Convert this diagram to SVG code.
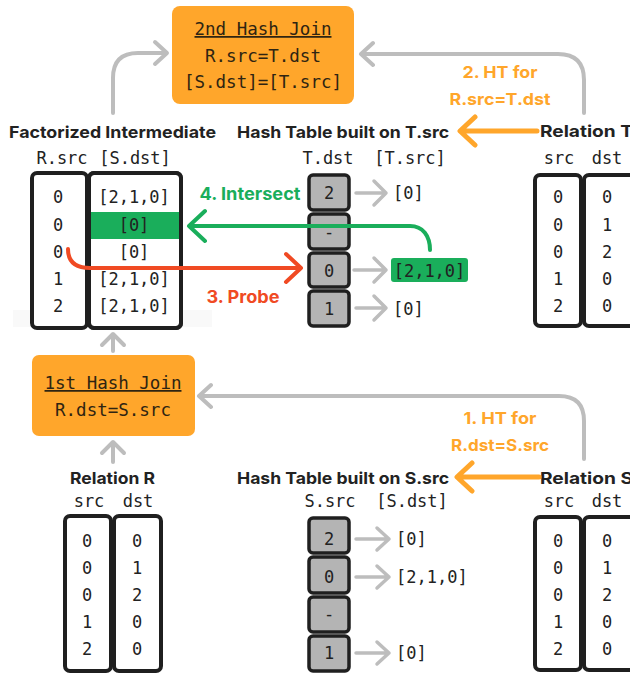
<svg xmlns="http://www.w3.org/2000/svg" width="630" height="675" viewBox="0 0 630 675">
<defs>
<style>
.mono{font-family:"DejaVu Sans Mono","Liberation Mono",monospace;font-size:17px;fill:#222;text-anchor:middle}
.monoL{font-family:"DejaVu Sans Mono","Liberation Mono",monospace;font-size:17px;fill:#222}
.bold{font-family:Inter,"Liberation Sans",sans-serif;font-weight:700;font-size:16.5px;fill:#222}
.obold{font-family:Inter,"Liberation Sans",sans-serif;font-weight:700;font-size:16.5px;fill:#FFA62B;text-anchor:middle}
.boxtxt{font-family:"DejaVu Sans Mono","Liberation Mono",monospace;font-size:17.5px;fill:#2e2412;text-anchor:middle}
.col{fill:#fff;stroke:#1f1f1f;stroke-width:4}
.cell{fill:#b4b4b4;stroke:#1f1f1f;stroke-width:3.5}
.gray{fill:none;stroke:#bdbdbd;stroke-width:4;stroke-linecap:round;stroke-linejoin:round}
.garr{fill:none;stroke:#bdbdbd;stroke-width:3.5;stroke-linecap:round;stroke-linejoin:round}
.orange{fill:none;stroke:#FFA62B;stroke-width:5;stroke-linecap:round;stroke-linejoin:round}
.jbox{fill:#FFA62B}
</style>
</defs>
<rect width="630" height="675" fill="#fff"/>
<rect x="13" y="310" width="199" height="17" fill="#f9f9f9"/>

<!-- 2nd Hash Join -->
<g id="join2">
<rect class="jbox" x="172" y="6" width="182" height="98" rx="8"/>
<text class="boxtxt" x="263" y="35" text-decoration="underline">2nd Hash Join</text>
<text class="boxtxt" x="263" y="62">R.src=T.dst</text>
<text class="boxtxt" x="263" y="88">[S.dst]=[T.src]</text>
</g>

<!-- 1st Hash Join -->
<g id="join1">
<rect class="jbox" x="32" y="355" width="163" height="81" rx="7"/>
<text class="boxtxt" x="113" y="389" text-decoration="underline">1st Hash Join</text>
<text class="boxtxt" x="113" y="416">R.dst=S.src</text>
</g>

<!-- Factorized Intermediate -->
<g id="factorized">
<text class="bold" x="9" y="138" textLength="207" lengthAdjust="spacingAndGlyphs">Factorized Intermediate</text>
<text class="mono" x="62" y="164">R.src</text>
<text class="mono" x="135" y="164">[S.dst]</text>
<rect class="col" x="32" y="173" width="55" height="155" rx="5"/>
<rect class="col" x="89" y="173" width="92" height="155" rx="5"/>
<rect x="91" y="212" width="88" height="27" fill="#1aae5b"/>
<rect x="89" y="173" width="92" height="155" rx="5" fill="none" stroke="#1f1f1f" stroke-width="4"/>
<text class="mono" x="58" y="203">0</text>
<text class="mono" x="58" y="231">0</text>
<text class="mono" x="58" y="258">0</text>
<text class="mono" x="58" y="285">1</text>
<text class="mono" x="58" y="312">2</text>
<text class="mono" x="134" y="203">[2,1,0]</text>
<text class="mono" x="134" y="231">[0]</text>
<text class="mono" x="134" y="258">[0]</text>
<text class="mono" x="134" y="285">[2,1,0]</text>
<text class="mono" x="134" y="312">[2,1,0]</text>
</g>

<!-- Hash table on T.src -->
<g id="htT">
<text class="bold" x="237" y="138" textLength="212" lengthAdjust="spacingAndGlyphs">Hash Table built on T.src</text>
<text class="mono" x="328" y="164">T.dst</text>
<text class="mono" x="410" y="164">[T.src]</text>
<rect class="cell" x="309" y="175" width="40" height="35" rx="4"/>
<rect class="cell" x="309" y="214" width="40" height="35" rx="4"/>
<rect class="cell" x="309" y="253" width="40" height="34" rx="4"/>
<rect class="cell" x="309" y="291" width="40" height="35" rx="4"/>
<text class="mono" x="329" y="199">2</text>
<text class="mono" x="329" y="238">-</text>
<text class="mono" x="329" y="277">0</text>
<text class="mono" x="329" y="315">1</text>
<path class="garr" d="M356,193 H386 M374,181 L386,193 L374,205"/>
<path class="garr" d="M354,270 H386 M374,258 L386,270 L374,282"/>
<path class="garr" d="M356,308 H386 M374,296 L386,308 L374,320"/>
<text class="monoL" x="393" y="199">[0]</text>
<rect x="391" y="258" width="77" height="24" rx="3" fill="#1aae5b"/>
<text class="mono" x="429.5" y="277">[2,1,0]</text>
<text class="monoL" x="393" y="315">[0]</text>
</g>

<!-- Relation T -->
<g id="relT">
<text class="bold" x="540" y="137" textLength="93" lengthAdjust="spacingAndGlyphs">Relation T</text>
<text class="mono" x="559" y="164">src</text>
<text class="mono" x="607" y="164">dst</text>
<rect class="col" x="535" y="175" width="46" height="151" rx="5"/>
<rect class="col" x="584" y="175" width="60" height="151" rx="5"/>
<text class="mono" x="558" y="203">0</text>
<text class="mono" x="558" y="231">0</text>
<text class="mono" x="558" y="258">0</text>
<text class="mono" x="558" y="285">1</text>
<text class="mono" x="558" y="312">2</text>
<text class="mono" x="607" y="203">0</text>
<text class="mono" x="607" y="231">1</text>
<text class="mono" x="607" y="258">2</text>
<text class="mono" x="607" y="285">0</text>
<text class="mono" x="607" y="312">0</text>
</g>

<!-- Relation R -->
<g id="relR">
<text class="bold" x="70" y="484" textLength="85" lengthAdjust="spacingAndGlyphs">Relation R</text>
<text class="mono" x="89" y="507">src</text>
<text class="mono" x="138" y="507">dst</text>
<rect class="col" x="65" y="516" width="46" height="155" rx="5"/>
<rect class="col" x="114" y="516" width="47" height="155" rx="5"/>
<text class="mono" x="87" y="547">0</text>
<text class="mono" x="87" y="574">0</text>
<text class="mono" x="87" y="601">0</text>
<text class="mono" x="87" y="628">1</text>
<text class="mono" x="87" y="655">2</text>
<text class="mono" x="137" y="547">0</text>
<text class="mono" x="137" y="574">1</text>
<text class="mono" x="137" y="601">2</text>
<text class="mono" x="137" y="628">0</text>
<text class="mono" x="137" y="655">0</text>
</g>

<!-- Hash table on S.src -->
<g id="htS">
<text class="bold" x="237" y="484" textLength="212" lengthAdjust="spacingAndGlyphs">Hash Table built on S.src</text>
<text class="mono" x="330" y="507">S.src</text>
<text class="mono" x="412" y="507">[S.dst]</text>
<rect class="cell" x="309" y="518" width="40" height="35" rx="4"/>
<rect class="cell" x="309" y="557" width="40" height="36" rx="4"/>
<rect class="cell" x="309" y="597" width="40" height="35" rx="4"/>
<rect class="cell" x="309" y="636" width="40" height="35" rx="4"/>
<text class="mono" x="329" y="545">2</text>
<text class="mono" x="329" y="583">0</text>
<text class="mono" x="329" y="620">-</text>
<text class="mono" x="329" y="659">1</text>
<path class="garr" d="M356,539 H389 M377,528 L389,539 L377,550"/>
<path class="garr" d="M356,577 H389 M377,566 L389,577 L377,588"/>
<path class="garr" d="M356,653 H389 M377,642 L389,653 L377,664"/>
<text class="monoL" x="396" y="545">[0]</text>
<text class="monoL" x="396" y="583">[2,1,0]</text>
<text class="monoL" x="396" y="659">[0]</text>
</g>

<!-- Relation S -->
<g id="relS">
<text class="bold" x="540" y="484" textLength="93" lengthAdjust="spacingAndGlyphs">Relation S</text>
<text class="mono" x="559" y="507">src</text>
<text class="mono" x="607" y="507">dst</text>
<rect class="col" x="535" y="517" width="46" height="153" rx="5"/>
<rect class="col" x="584" y="517" width="60" height="153" rx="5"/>
<text class="mono" x="558" y="547">0</text>
<text class="mono" x="558" y="574">0</text>
<text class="mono" x="558" y="601">0</text>
<text class="mono" x="558" y="628">1</text>
<text class="mono" x="558" y="655">2</text>
<text class="mono" x="607" y="547">0</text>
<text class="mono" x="607" y="574">1</text>
<text class="mono" x="607" y="601">2</text>
<text class="mono" x="607" y="628">0</text>
<text class="mono" x="607" y="655">0</text>
</g>

<!-- connectors -->
<g id="connectors">
<path class="gray" d="M113,113 V78 Q113,53 138,53 H166 M155,42 L167,53 L155,64"/>
<path class="gray" d="M584,113 V80 Q584,54 558,54 H361 M373,43 L361,54 L373,65"/>
<path class="gray" d="M584,459 V421 Q584,396 559,396 H199 M211,385 L199,396 L211,407"/>
<path class="gray" d="M113,351 V335 M102,345 L113,334 L124,345"/>
<path class="gray" d="M113,462 V443 M102,453 L113,442 L124,453"/>
<path class="orange" d="M537,131 H461 M475,117 L460,131 L475,145"/>
<text class="obold" x="500" y="78" textLength="75" lengthAdjust="spacingAndGlyphs">2. HT for</text>
<text class="obold" x="500" y="105" textLength="101" lengthAdjust="spacingAndGlyphs">R.src=T.dst</text>
<path class="orange" d="M539,477 H458 M472,463 L457,477 L472,491"/>
<text class="obold" x="500" y="424" textLength="73" lengthAdjust="spacingAndGlyphs">1. HT for</text>
<text class="obold" x="500" y="451" textLength="98" lengthAdjust="spacingAndGlyphs">R.dst=S.src</text>
<path d="M68,249 C68,262 76,268 90,268 H300 M286,254 L301,268 L286,282" fill="none" stroke="#f04a23" stroke-width="4" stroke-linecap="round" stroke-linejoin="round"/>
<text x="243" y="303" font-family="Inter,'Liberation Sans',sans-serif" font-weight="700" font-size="17.5" fill="#f04a23" text-anchor="middle" textLength="73" lengthAdjust="spacingAndGlyphs">3. Probe</text>
<path d="M430,250 C430,236 423,226 410,226 H190 M205,211 L189,226 L205,241" fill="none" stroke="#1aae5b" stroke-width="4" stroke-linecap="round" stroke-linejoin="round"/>
<text x="250" y="200" font-family="Inter,'Liberation Sans',sans-serif" font-weight="700" font-size="17.5" fill="#1aae5b" text-anchor="middle" textLength="101" lengthAdjust="spacingAndGlyphs">4. Intersect</text>
</g>
</svg>
